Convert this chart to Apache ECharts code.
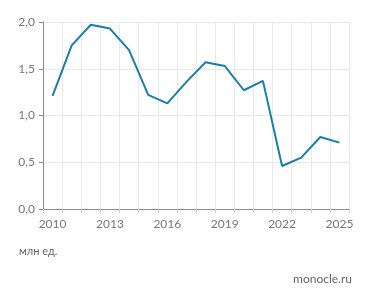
<!DOCTYPE html>
<html><head><meta charset="utf-8">
<script src="https://cdn.jsdelivr.net/npm/echarts@6/dist/echarts.min.js"></script>
<style>html,body{margin:0;padding:0;background:#fff}#c{width:371px;height:301px}</style>
</head><body><div id="c"></div>
<script>
const years = ['2010','2011','2012','2013','2014','2015','2016','2017','2018','2019','2020','2021','2022','2023','2024','2025'];
const values = [1.21,1.75,1.97,1.93,1.70,1.22,1.13,1.36,1.57,1.53,1.27,1.37,0.46,0.55,0.77,0.71];
const unitLabel = 'млн ед.';
const sourceLabel = 'monocle.ru';
const chart = echarts.init(document.getElementById('c'), null, {renderer:'canvas'});
chart.setOption({
  animation:false,
  grid:{left:43,right:22,top:22,bottom:92},
  xAxis:{type:'category',data:years,boundaryGap:true,
    axisLine:{lineStyle:{color:'#8c8c8c',width:1}},
    axisTick:{show:true,interval:0,length:4,lineStyle:{color:'#d0d0d0'}},
    axisLabel:{interval:2,color:'#777',fontSize:12,fontFamily:'Lato',margin:9},
    splitLine:{show:true,interval:0,lineStyle:{color:'#e8e8e8'}}},
  yAxis:{type:'value',min:0,max:2,interval:0.5,
    axisLine:{show:true,lineStyle:{color:'#8c8c8c'}},
    axisTick:{show:true,length:4,lineStyle:{color:'#8c8c8c'}},
    axisLabel:{color:'#777',fontSize:12,fontFamily:'Lato',margin:8,
      formatter:v=>v.toFixed(1).replace('.',',')},
    splitLine:{lineStyle:{color:'#e8e8e8'}}},
  graphic:[
    {type:'text',left:19,top:246,style:{text:unitLabel,fill:'#666',font:'11px Lato'}},
    {type:'text',right:19,top:273,style:{text:sourceLabel,fill:'#666',font:'12px Lato'}}
  ],
  series:[{type:'line',data:values,symbol:'none',lineStyle:{color:'#1a7ea8',width:2}}]
});
</script></body></html>
